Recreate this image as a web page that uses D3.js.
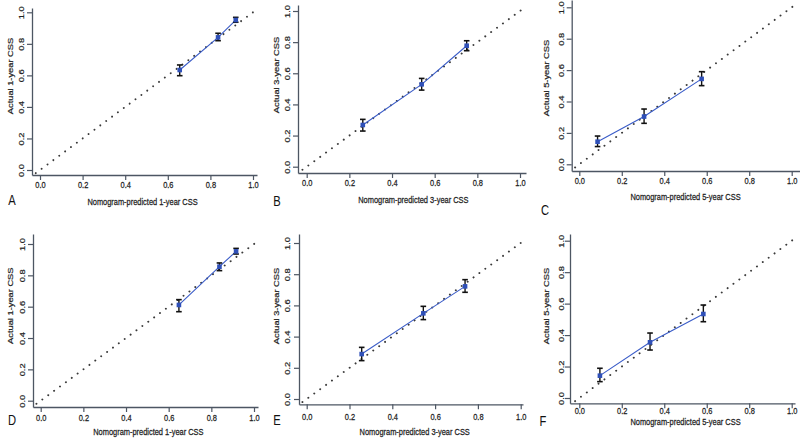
<!DOCTYPE html>
<html>
<head>
<meta charset="utf-8">
<script src="https://cdn.jsdelivr.net/npm/d3@7"></script>
<style>
  html, body { margin: 0; padding: 0; background: #fff; }
  svg { display: block; }
  text { font-family: "Liberation Sans", Arial, sans-serif; }
</style>
</head>
<body>
<svg id="chart" width="800" height="438"></svg>
<script>
// ---------- data ----------
const panelLetters = ["A", "B", "C", "D", "E", "F"];
const yearLabels = ["1", "3", "5", "1", "3", "5"];
const predicted = [
  [0.656, 0.836, 0.919],
  [0.263, 0.539, 0.750],
  [0.086, 0.305, 0.576],
  [0.648, 0.838, 0.916],
  [0.257, 0.545, 0.740],
  [0.097, 0.333, 0.584]
];
const observed = [
  [0.634, 0.841, 0.951],
  [0.268, 0.529, 0.777],
  [0.144, 0.304, 0.544],
  [0.611, 0.855, 0.953],
  [0.288, 0.549, 0.722],
  [0.142, 0.354, 0.534]
];
const lowerCI = [
  [0.598, 0.820, 0.937],
  [0.229, 0.492, 0.745],
  [0.113, 0.261, 0.501],
  [0.568, 0.830, 0.936],
  [0.246, 0.509, 0.684],
  [0.104, 0.305, 0.485]
];
const upperCI = [
  [0.666, 0.867, 0.968],
  [0.304, 0.567, 0.809],
  [0.180, 0.352, 0.590],
  [0.645, 0.879, 0.972],
  [0.331, 0.594, 0.765],
  [0.189, 0.413, 0.591]
];
const tickValues = [0, 0.2, 0.4, 0.6, 0.8, 1.0];
const tickLabels = ["0.0", "0.2", "0.4", "0.6", "0.8", "1.0"];
const diagonal = [-0.02, 1.02];

// ---------- layout (pixel placement per panel) ----------
const layout = [
  {x0: 40,    x1: 253,   y0: 170,   y1: 12.3,  ax: 32,    ay: 175,   xEnd: 257,   yTop: 8,   xLab: 185,   xTitle: 201.5, xtOff: -4, yLab: 21.7,  yTitle: 10,    yTitleC: 76,    lx: 12,  ly: 200},
  {x0: 306.7, x1: 520,   y0: 166.7, y1: 11,    ax: 298,   ay: 173,   xEnd: 526,   yTop: 5,   xLab: 182.5, xTitle: 200,   xtOff: 0,  yLab: 287.7, yTitle: 276.7, yTitleC: 75,    lx: 277, ly: 201},
  {x0: 579.3, x1: 791.7, y0: 164.3, y1: 7.3,   ax: 571.7, ay: 171,   xEnd: 800,   yTop: 0,   xLab: 181,   xTitle: 196.7, xtOff: 0,  yLab: 561.7, yTitle: 546.7, yTitleC: 78,    lx: 545, ly: 210},
  {x0: 40.7,  x1: 254,   y0: 400.7, y1: 244,   ax: 33,    ay: 407,   xEnd: 258,   yTop: 234, xLab: 418,   xTitle: 432,   xtOff: 1,  yLab: 22.7,  yTitle: 10,    yTitleC: 305.7, lx: 12,  ly: 420},
  {x0: 306.7, x1: 520.7, y0: 399,   y1: 243,   ax: 299,   ay: 404.3, xEnd: 523,   yTop: 234, xLab: 416.7, xTitle: 432,   xtOff: 1,  yLab: 287.7, yTitle: 276.7, yTitleC: 306,   lx: 277, ly: 420},
  {x0: 579.3, x1: 791.7, y0: 398,   y1: 240.7, ax: 570,   ay: 403.3, xEnd: 795,   yTop: 234, xLab: 410.8, xTitle: 422,   xtOff: 0,  yLab: 561.7, yTitle: 546.7, yTitleC: 306,   lx: 543, ly: 421}
];

const axisColor = "#4d5663";
const textColor = "#222";
const blue = "#3a5cc8";
const sx = 0.8;      // horizontal squeeze of the original figure's lettering
const fs = 9.3;

const svg = d3.select("#chart");

function inkText(sel) {
  return sel.attr("fill", textColor).attr("stroke", textColor).attr("stroke-width", 0.25);
}

panelLetters.forEach((letter, i) => {
  const L = layout[i];
  const g = svg.append("g");

  const xBase = d3.scaleLinear().domain([0, 1]).range([L.x0, L.x1]);
  const yBase = d3.scaleLinear().domain([0, 1]).range([L.y0, L.y1]);
  const x = d3.scaleLinear().domain([xBase.invert(L.ax), xBase.invert(L.xEnd)]).range([L.ax, L.xEnd]);
  const y = d3.scaleLinear().domain([yBase.invert(L.ay), yBase.invert(L.yTop)]).range([L.ay, L.yTop]);

  // x axis
  const xAxis = d3.axisBottom(x).tickValues(tickValues)
    .tickFormat((d, k) => tickLabels[k]).tickSize(5).tickSizeOuter(0);
  const gx = g.append("g").attr("transform", `translate(0,${L.ay})`).call(xAxis);
  gx.select(".domain").attr("stroke", axisColor).attr("stroke-width", 1.3);
  gx.selectAll(".tick line").attr("stroke", axisColor).attr("stroke-width", 1.2);
  inkText(gx.selectAll(".tick text")
    .attr("x", 0).attr("y", 0).attr("dy", "0.35em")
    .attr("transform", `translate(0,${L.xLab - L.ay}) scale(${sx},1)`)
    .attr("font-size", fs));

  // y axis
  const yAxis = d3.axisLeft(y).tickValues(tickValues)
    .tickFormat((d, k) => tickLabels[k]).tickSize(5).tickSizeOuter(0);
  const gy = g.append("g").attr("transform", `translate(${L.ax},0)`).call(yAxis);
  gy.select(".domain").attr("stroke", axisColor).attr("stroke-width", 1.3);
  gy.selectAll(".tick line").attr("stroke", axisColor).attr("stroke-width", 1.2);
  inkText(gy.selectAll(".tick text")
    .attr("x", 0).attr("y", 0).attr("dy", "0.35em")
    .attr("text-anchor", "middle")
    .attr("transform", `translate(${L.yLab - L.ax},0) scale(${sx},1) rotate(-90)`)
    .attr("font-size", fs));
  g.selectAll(".domain").attr("fill", "none");

  // axis titles
  inkText(g.append("text")
    .attr("transform", `translate(${(L.x0 + L.x1) / 2 + L.xtOff},${L.xTitle}) scale(${sx},1)`)
    .attr("dy", "0.35em")
    .attr("text-anchor", "middle").attr("font-size", fs)
    .text(`Nomogram-predicted ${yearLabels[i]}-year CSS`));
  inkText(g.append("text")
    .attr("transform", `translate(${L.yTitle},${L.yTitleC}) scale(${sx},1) rotate(-90)`)
    .attr("dy", "0.35em")
    .attr("text-anchor", "middle").attr("font-size", fs)
    .text(`Actual ${yearLabels[i]}-year CSS`));

  // panel letter
  g.append("text")
    .attr("transform", `translate(${L.lx},${L.ly}) scale(${sx},1)`)
    .attr("dy", "0.35em")
    .attr("text-anchor", "middle").attr("font-size", 14).attr("fill", "#111")
    .text(letter);

  // diagonal reference (dotted)
  g.append("line")
    .attr("x1", x(diagonal[0])).attr("y1", y(diagonal[0]))
    .attr("x2", x(diagonal[1])).attr("y2", y(diagonal[1]))
    .attr("stroke", "#3a3a3a").attr("stroke-width", 1.9)
    .attr("stroke-linecap", "round").attr("stroke-dasharray", "0.1,7.2");

  // calibration line
  const pts = predicted[i].map((p, k) => ({p, o: observed[i][k], lo: lowerCI[i][k], hi: upperCI[i][k]}));
  g.append("path").datum(pts)
    .attr("d", d3.line().x(d => x(d.p)).y(d => y(d.o)))
    .attr("fill", "none").attr("stroke", blue).attr("stroke-width", 1.1);

  // error bars
  const eb = g.selectAll(".eb").data(pts).enter().append("g");
  eb.append("line")
    .attr("x1", d => x(d.p)).attr("x2", d => x(d.p))
    .attr("y1", d => y(d.lo)).attr("y2", d => y(d.hi))
    .attr("stroke", "#111").attr("stroke-width", 1.4);
  eb.append("line")
    .attr("x1", d => x(d.p) - 2.8).attr("x2", d => x(d.p) + 2.8)
    .attr("y1", d => y(d.lo)).attr("y2", d => y(d.lo))
    .attr("stroke", "#111").attr("stroke-width", 1.6);
  eb.append("line")
    .attr("x1", d => x(d.p) - 2.8).attr("x2", d => x(d.p) + 2.8)
    .attr("y1", d => y(d.hi)).attr("y2", d => y(d.hi))
    .attr("stroke", "#111").attr("stroke-width", 1.6);

  // markers
  g.selectAll(".pt").data(pts).enter().append("rect")
    .attr("x", d => x(d.p) - 2.3).attr("y", d => y(d.o) - 2.3)
    .attr("width", 4.6).attr("height", 4.6)
    .attr("fill", "#2f50b8");
});
</script>
</body>
</html>
